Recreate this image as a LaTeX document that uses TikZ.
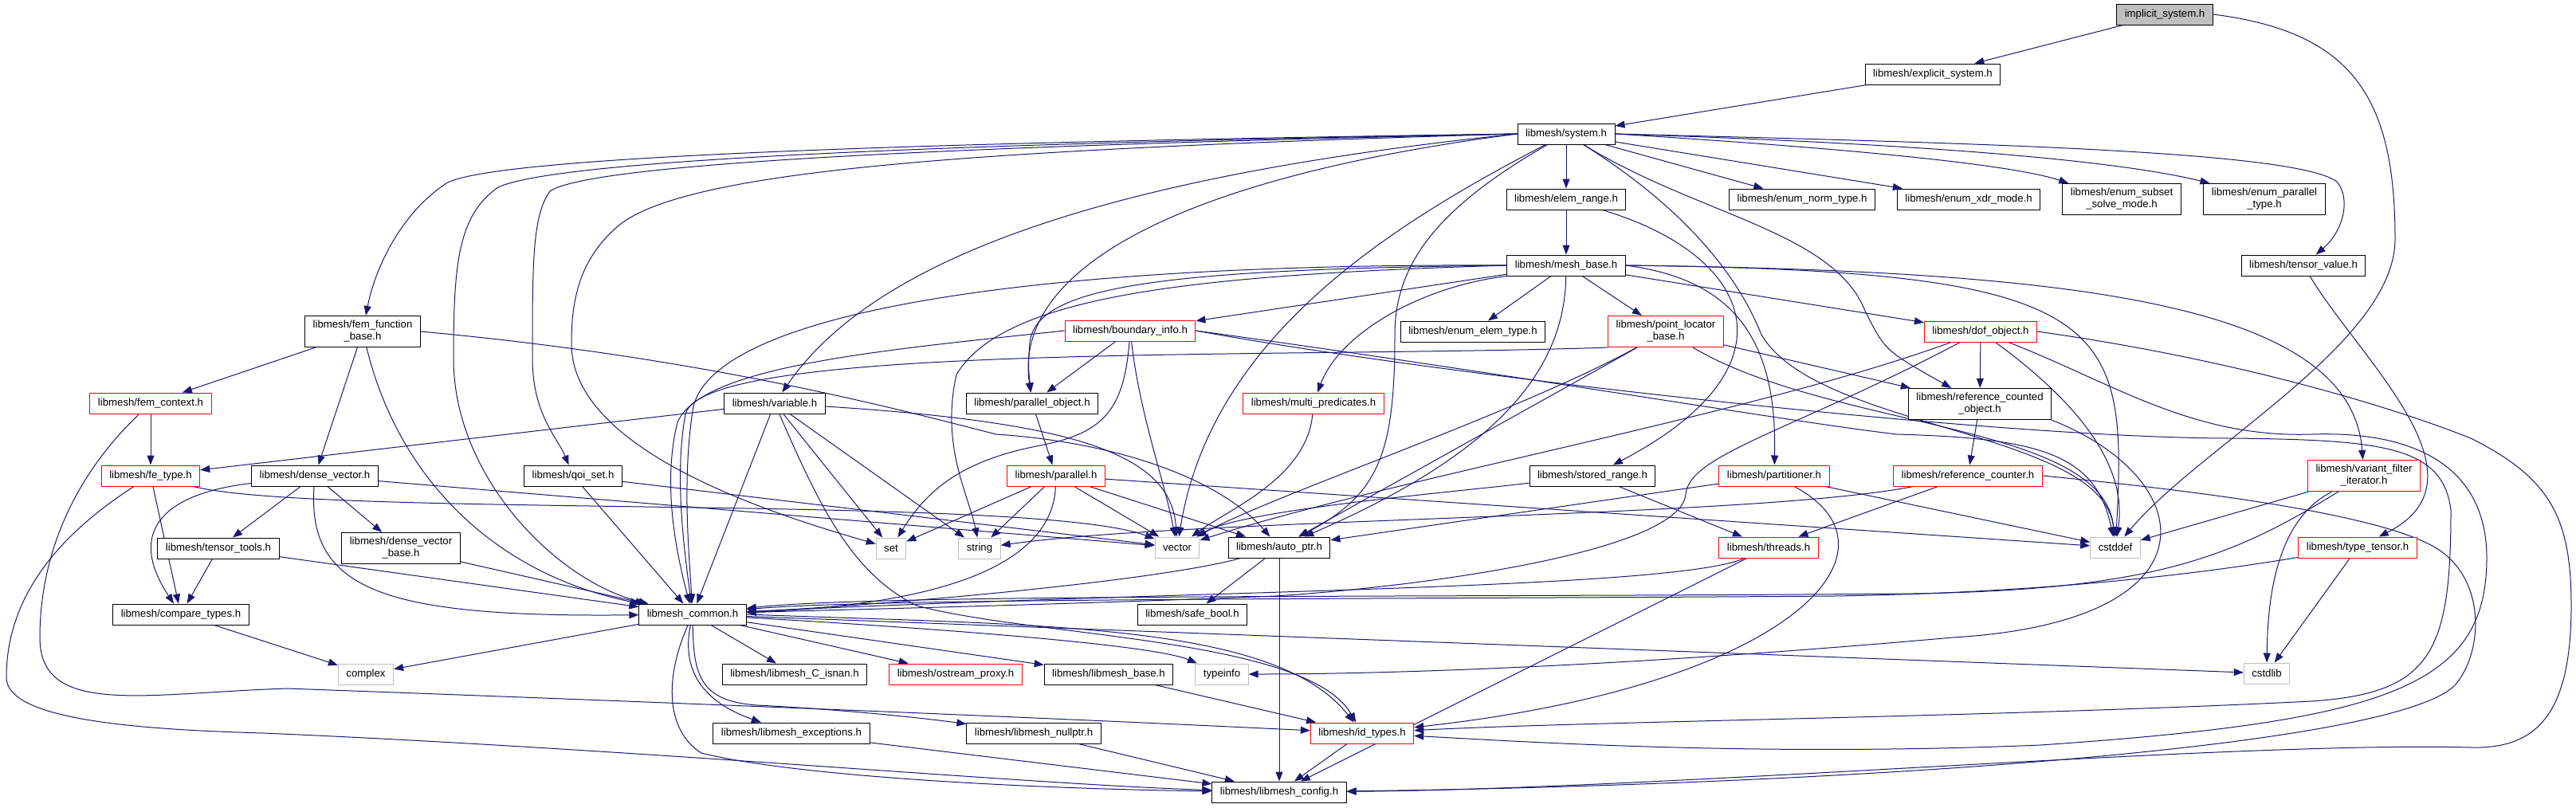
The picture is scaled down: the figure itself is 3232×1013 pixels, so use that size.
\documentclass[tikz,border=0pt]{standalone}
\usepackage{fontspec}
\setmainfont{Liberation Sans}
\usepackage{tikz}
\usetikzlibrary{arrows.meta,backgrounds}
\definecolor{edgeBlue}{RGB}{25,25,112}
\definecolor{boxRed}{RGB}{255,0,0}
\definecolor{boxGray}{RGB}{191,191,191}
\newcommand{\hdrfont}{\fontsize{13.2}{15}\selectfont}

\begin{document}
\begin{tikzpicture}[x=1pt, y=-1pt,
    hdr/.style={draw=black, fill=white, line width=1pt, font=\hdrfont, inner xsep=10pt, inner ysep=6pt, minimum height=26pt, align=center},
    hdrRed/.style={hdr, draw=boxRed},
    hdrSys/.style={hdr, draw=boxGray},
    hdrRoot/.style={hdr, fill=boxGray},
    inc/.style={draw=edgeBlue, line width=1pt, -{Triangle[length=12pt,width=9pt]}}]
        \useasboundingbox (0,0) rectangle (3232,1013);
        \node[hdrRoot] (implicit) at (2716,18) {implicit\_system.h};
        \node[hdr] (explicit) at (2425,93) {libmesh/explicit\_system.h};
        \node[hdr] (system) at (1965,168) {libmesh/system.h};
        \node[hdr] (elemRange) at (1965,250) {libmesh/elem\_range.h};
        \node[hdr] (enumNorm) at (2261,250) {libmesh/enum\_norm\_type.h};
        \node[hdr] (enumXdr) at (2470,250) {libmesh/enum\_xdr\_mode.h};
        \node[hdr] (enumSubset) at (2662,250) {libmesh/enum\_subset\\\_solve\_mode.h};
        \node[hdr] (enumParallel) at (2841,250) {libmesh/enum\_parallel\\\_type.h};
        \node[hdr] (meshBase) at (1965,333) {libmesh/mesh\_base.h};
        \node[hdr] (tensorValue) at (2890,333) {libmesh/tensor\_value.h};
        \node[hdr] (femFunction) at (455,416) {libmesh/fem\_function\\\_base.h};
        \node[hdrRed] (boundaryInfo) at (1418,415) {libmesh/boundary\_info.h};
        \node[hdr] (enumElem) at (1848,416) {libmesh/enum\_elem\_type.h};
        \node[hdrRed] (pointLocator) at (2090,416) {libmesh/point\_locator\\\_base.h};
        \node[hdrRed] (dofObject) at (2485,416) {libmesh/dof\_object.h};
        \node[hdrRed] (femContext) at (189,506) {libmesh/fem\_context.h};
        \node[hdr] (variable) at (972,506) {libmesh/variable.h};
        \node[hdr] (parallelObject) at (1295,506) {libmesh/parallel\_object.h};
        \node[hdrRed] (multiPred) at (1648,506) {libmesh/multi\_predicates.h};
        \node[hdr] (refCountedObj) at (2484,507) {libmesh/reference\_counted\\\_object.h};
        \node[hdrRed] (feType) at (189,597) {libmesh/fe\_type.h};
        \node[hdr] (denseVector) at (395,597) {libmesh/dense\_vector.h};
        \node[hdr] (qoiSet) at (719,597) {libmesh/qoi\_set.h};
        \node[hdrRed] (parallel) at (1325,597) {libmesh/parallel.h};
        \node[hdr] (storedRange) at (1998,597) {libmesh/stored\_range.h};
        \node[hdrRed] (partitioner) at (2226,597) {libmesh/partitioner.h};
        \node[hdrRed] (refCounter) at (2469,597) {libmesh/reference\_counter.h};
        \node[hdrRed] (variantFilter) at (2966,597) {libmesh/variant\_filter\\\_iterator.h};
        \node[hdr] (tensorTools) at (274,688) {libmesh/tensor\_tools.h};
        \node[hdr] (denseVectorBase) at (503,688) {libmesh/dense\_vector\\\_base.h};
        \node[hdrSys] (set) at (1118,688) {set};
        \node[hdrSys] (string) at (1229,688) {string};
        \node[hdrSys] (vector) at (1477,687) {vector};
        \node[hdr] (autoPtr) at (1605,687) {libmesh/auto\_ptr.h};
        \node[hdrRed] (threads) at (2219,687) {libmesh/threads.h};
        \node[hdrSys] (cstddef) at (2654,687) {cstddef};
        \node[hdrRed] (typeTensor) at (2958,687) {libmesh/type\_tensor.h};
        \node[hdr] (compareTypes) at (227,771) {libmesh/compare\_types.h};
        \node[hdr] (libmeshCommon) at (869,771) {libmesh\_common.h};
        \node[hdr] (safeBool) at (1496,771) {libmesh/safe\_bool.h};
        \node[hdrSys] (complex) at (459,846) {complex};
        \node[hdr] (cIsnan) at (997,846) {libmesh/libmesh\_C\_isnan.h};
        \node[hdrRed] (ostreamProxy) at (1199,846) {libmesh/ostream\_proxy.h};
        \node[hdr] (libmeshBase) at (1391,846) {libmesh/libmesh\_base.h};
        \node[hdrSys] (typeinfo) at (1533,846) {typeinfo};
        \node[hdrSys] (cstdlib) at (2844,845) {cstdlib};
        \node[hdr] (exceptions) at (993,920) {libmesh/libmesh\_exceptions.h};
        \node[hdr] (nullptr) at (1297,920) {libmesh/libmesh\_nullptr.h};
        \node[hdrRed] (idTypes) at (1709,920) {libmesh/id\_types.h};
        \node[hdr] (config) at (1605,994) {libmesh/libmesh\_config.h};

        \begin{pgfonlayer}{background}
        \fill[white] (0,0) rectangle (3232,1013);
        \draw[inc] (implicit) -- (explicit);
        \draw[inc] (implicit.east) .. controls (2950,40) and (3005,120) .. (3005,300) .. controls (3005,430) and (2760,560) .. (cstddef);
        \draw[inc] (explicit) -- (system);

        \draw[inc] (system) -- (elemRange);
        \draw[inc] (system) -- (enumNorm);
        \draw[inc] (system) -- (enumXdr);
        \draw[inc] (system.east) .. controls (2300,185) and (2520,205) .. ([xshift=8pt]enumSubset.north west);
        \draw[inc] (system.east) .. controls (2400,180) and (2650,200) .. ([xshift=8pt]enumParallel.north west);
        \draw[inc] (system.east) .. controls (2500,180) and (2880,190) .. (2932,228) .. controls (2950,250) and (2940,290) .. (tensorValue);
        \draw[inc] (system) .. controls (2130,270) and (2300,290) .. (2340,390) .. controls (2365,440) .. (refCountedObj);
        \draw[inc] (system) .. controls (2080,240) and (2170,320) .. (2210,420) .. controls (2280,540) and (2640,540) .. (cstddef);
        \draw[inc] (system) .. controls (1805,260) and (1750,330) .. (1750,420) .. controls (1750,570) and (1730,620) .. (autoPtr);
        \draw[inc] (system) .. controls (1750,280) and (1520,420) .. (vector);
        \draw[inc] (system.west) .. controls (1500,220) and (1270,330) .. (parallelObject);
        \draw[inc] (system.west) .. controls (1400,220) and (1100,320) .. (variable);
        \draw[inc] (system.west) .. controls (1200,178) and (620,195) .. (560,230) .. controls (500,270) and (470,340) .. (femFunction);
        \draw[inc] (system.west) .. controls (1200,180) and (700,200) .. (625,235) .. controls (575,270) and (569,330) .. (569,450) .. controls (569,600) and (700,730) .. (libmeshCommon);
        \draw[inc] (system.west) .. controls (1200,183) and (740,205) .. (690,240) .. controls (668,270) and (668,330) .. (668,450) .. controls (668,520) and (700,550) .. (qoiSet);
        \draw[inc] (system.west) .. controls (1200,188) and (870,215) .. (780,280) .. controls (730,320) and (717,370) .. (717,430) .. controls (715,560) and (950,640) .. (set);

        \draw[inc] (elemRange) -- (meshBase);
        \draw[inc] (elemRange) .. controls (2200,320) and (2260,460) .. (storedRange);

        \draw[inc] (meshBase) -- (boundaryInfo);
        \draw[inc] (meshBase) -- (enumElem);
        \draw[inc] (meshBase.south west) .. controls (1780,360) and (1680,420) .. (multiPred);
        \draw[inc] (meshBase) .. controls (1963,450) and (1900,560) .. (autoPtr);
        \draw[inc] (meshBase) -- (pointLocator);
        \draw[inc] (meshBase) -- (dofObject);
        \draw[inc] (meshBase.east) .. controls (2170,350) and (2230,420) .. (partitioner);
        \draw[inc] (meshBase.east) .. controls (2600,340) and (2950,380) .. (variantFilter);
        \draw[inc] (meshBase.east) .. controls (2650,340) and (2670,400) .. (cstddef);
        \draw[inc] (meshBase.west) .. controls (1500,345) and (1260,370) .. (1200,470) .. controls (1180,560) and (1215,620) .. (string);
        \draw[inc] (meshBase.west) .. controls (1450,338) and (1300,360) .. (1292,430) .. controls (1290,460) .. (parallelObject);
        \draw[inc] (meshBase.west) .. controls (1300,330) and (900,390) .. (870,510) .. controls (855,600) and (865,700) .. (libmeshCommon);

        \draw[inc] (boundaryInfo) -- (parallelObject);
        \draw[inc] (boundaryInfo) .. controls (1410,520) and (1380,545) .. (1300,560) .. controls (1200,580) and (1160,620) .. (set);
        \draw[inc] (boundaryInfo) .. controls (1430,520) and (1460,600) .. (vector);
        \draw[inc] (boundaryInfo.west) .. controls (1100,440) and (880,460) .. (850,530) .. controls (830,610) and (850,700) .. (libmeshCommon);
        \draw[inc] (boundaryInfo.east) .. controls (1900,470) and (2250,530) .. (2380,545) .. controls (2560,550) and (2630,570) .. (cstddef);
        \draw[inc] (boundaryInfo.east) .. controls (1800,470) and (2500,550) .. (2800,550) .. controls (2990,552) and (3065,560) .. (3075,640) .. controls (3075,820) and (3050,870) .. (2900,880) .. controls (2500,900) and (2000,905) .. (idTypes);

        \draw[inc] (pointLocator.south west) .. controls (1600,450) and (880,430) .. (860,520) .. controls (845,600) and (860,700) .. (libmeshCommon);
        \draw[inc] (pointLocator) .. controls (1900,520) and (1600,620) .. (vector);
        \draw[inc] (pointLocator) -- (autoPtr);
        \draw[inc] (pointLocator) .. controls (2300,540) and (2640,530) .. (cstddef);
        \draw[inc] (pointLocator) -- (refCountedObj);

        \draw[inc] (dofObject) -- (refCountedObj);
        \draw[inc] (dofObject) .. controls (2200,520) and (1750,600) .. (vector);
        \draw[inc] (dofObject) .. controls (2250,540) and (2120,570) .. (2115,620) .. controls (2110,690) and (1800,735) .. (1600,748) .. controls (1300,760) and (1050,765) .. (libmeshCommon);
        \draw[inc] (dofObject) .. controls (2600,500) and (2670,580) .. (cstddef);
        \draw[inc] (dofObject) .. controls (2650,480) and (2750,550) .. (2900,545) .. controls (3050,540) and (3120,600) .. (3120,700) .. controls (3120,860) and (3000,905) .. (2560,935) .. controls (2200,950) and (1900,930) .. (idTypes);
        \draw[inc] (dofObject.east) .. controls (2800,450) and (3000,510) .. (3100,550) .. controls (3200,600) and (3226,650) .. (3226,760) .. controls (3226,900) and (3180,940) .. (3100,938) .. controls (2800,930) and (2100,990) .. (config);

        \draw[inc] (refCountedObj) -- (refCounter);
        \draw[inc] (refCountedObj.south east) .. controls (2760,600) and (2790,780) .. (2450,800) .. controls (2000,840) and (1700,846) .. (typeinfo);

        \draw[inc] (refCounter) -- (threads);
        \draw[inc] (refCounter) .. controls (2200,650) and (1500,650) .. (string);
        \draw[inc] (refCounter.east) .. controls (2800,620) and (3000,650) .. (3060,690) .. controls (3120,730) and (3115,820) .. (3080,860) .. controls (3000,940) and (2300,985) .. (config);

        \draw[inc] (partitioner) -- (autoPtr);
        \draw[inc] (partitioner) .. controls (2400,690) and (2250,860) .. (idTypes);
        \draw[inc] (partitioner) -- (cstddef);

        \draw[inc] (storedRange) .. controls (1800,620) and (1560,640) .. (vector);
        \draw[inc] (storedRange) -- (threads);

        \draw[inc] (threads) .. controls (2100,740) and (1500,740) .. (libmeshCommon);
        \draw[inc] (threads) -- (config);

        \draw[inc] (variantFilter) -- (cstddef);
        \draw[inc] (variantFilter) .. controls (2800,700) and (2700,740) .. (2400,745) .. controls (1800,750) and (1100,745) .. (libmeshCommon);
        \draw[inc] (variantFilter) .. controls (2860,650) and (2845,740) .. (cstdlib);

        \draw[inc] (typeTensor) .. controls (2700,730) and (2500,745) .. (2300,748) .. controls (1800,752) and (1100,750) .. (libmeshCommon);
        \draw[inc] (typeTensor) -- (cstdlib);
        \draw[inc] (tensorValue) .. controls (2960,450) and (3130,600) .. (typeTensor);
        \draw[inc] (multiPred) .. controls (1640,600) and (1540,640) .. (vector);

        \draw[inc] (parallelObject) -- (parallel);
        \draw[inc] (parallel) -- (set);
        \draw[inc] (parallel) -- (string);
        \draw[inc] (parallel) -- (vector);
        \draw[inc] (parallel) -- (autoPtr);
        \draw[inc] (parallel) .. controls (1320,720) and (1150,760) .. (libmeshCommon);
        \draw[inc] (parallel) -- (cstddef);

        \draw[inc] (variable) -- (feType);
        \draw[inc] (variable) -- (libmeshCommon);
        \draw[inc] (variable) -- (set);
        \draw[inc] (variable) -- (string);
        \draw[inc] (variable) .. controls (1350,530) and (1470,570) .. (vector);
        \draw[inc] (variable) .. controls (1030,640) and (1070,720) .. (1150,760) .. controls (1300,800) and (1640,800) .. (idTypes);

        \draw[inc] (qoiSet) -- (libmeshCommon);
        \draw[inc] (qoiSet) -- (vector);

        \draw[inc] (femFunction) -- (femContext);
        \draw[inc] (femFunction) -- (denseVector);
        \draw[inc] (femFunction) .. controls (500,600) and (620,720) .. (libmeshCommon);
        \draw[inc] (femFunction.east) .. controls (900,450) and (1150,520) .. (1250,545) .. controls (1400,555) and (1530,600) .. (autoPtr);

        \draw[inc] (femContext) -- (feType);
        \draw[inc] (femContext) .. controls (90,600) and (50,700) .. (50,800) .. controls (50,900) and (180,870) .. (360,864) .. controls (800,880) and (1300,900) .. (idTypes);

        \draw[inc] (feType) -- (compareTypes);
        \draw[inc] (feType) .. controls (60,680) and (8,760) .. (8,850) .. controls (8,900) and (150,915) .. (330,920) .. controls (800,940) and (1300,985) .. (config);
        \draw[inc] (feType) .. controls (400,650) and (1300,620) .. (vector);

        \draw[inc] (denseVector) -- (tensorTools);
        \draw[inc] (denseVector) -- (denseVectorBase);
        \draw[inc] (denseVector) .. controls (200,620) and (160,670) .. (compareTypes);
        \draw[inc] (denseVector) .. controls (385,740) and (480,775) .. (libmeshCommon);
        \draw[inc] (denseVector) -- (vector);

        \draw[inc] (tensorTools) -- (compareTypes);
        \draw[inc] (tensorTools) -- (libmeshCommon);
        \draw[inc] (denseVectorBase) -- (libmeshCommon);
        \draw[inc] (compareTypes) -- (complex);

        \draw[inc] (autoPtr) .. controls (1450,730) and (1100,760) .. (libmeshCommon);
        \draw[inc] (autoPtr) -- (safeBool);
        \draw[inc] (autoPtr) -- (config);

        \draw[inc] (libmeshCommon) -- (complex);
        \draw[inc] (libmeshCommon) -- (cIsnan);
        \draw[inc] (libmeshCommon) -- (ostreamProxy);
        \draw[inc] (libmeshCommon) -- (libmeshBase);
        \draw[inc] (libmeshCommon) .. controls (1200,790) and (1450,810) .. (typeinfo);
        \draw[inc] (libmeshCommon) -- (cstdlib);
        \draw[inc] (libmeshCommon.east) .. controls (1300,785) and (1600,780) .. (idTypes);
        \draw[inc] (libmeshCommon) .. controls (855,840) and (880,880) .. (exceptions);
        \draw[inc] (libmeshCommon) .. controls (870,850) and (880,880) .. (950,885) .. controls (1050,890) and (1150,900) .. (nullptr);
        \draw[inc] (libmeshCommon) .. controls (830,860) and (840,920) .. (880,945) .. controls (1000,975) and (1300,990) .. (config);

        \draw[inc] (libmeshBase) -- (idTypes);
        \draw[inc] (exceptions) -- (config);
        \draw[inc] (nullptr) -- (config);
        \draw[inc] (idTypes) -- (config);
        \end{pgfonlayer}
      \end{tikzpicture}
\end{document}
